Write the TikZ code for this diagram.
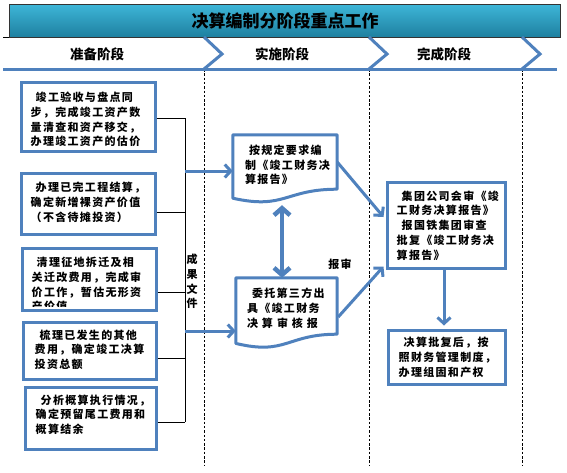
\documentclass[tikz,border=0pt]{standalone}
\usepackage{fontspec}
\setmainfont{Noto Sans CJK SC}
\newfontfamily\boxfont[LetterSpace=12]{Noto Sans CJK SC}
\usetikzlibrary{arrows.meta,calc}
\definecolor{ablue}{RGB}{79,129,189}
\definecolor{ttop}{RGB}{62,182,216}
\definecolor{tbot}{RGB}{30,128,160}
\begin{document}
\begin{tikzpicture}[x=1pt,y=-1pt,
  box/.style={draw=ablue,line width=3pt,fill=white,inner sep=0pt},
  docline/.style={draw=ablue,line width=3pt,fill=white,line join=round},
  ghost/.style={inner sep=0pt},
  txt/.style={anchor=north west,inner sep=0pt,align=left,font=\boxfont\bfseries\fontsize{11}{14.7}\selectfont},
  lbl/.style={inner sep=0pt,align=center,font=\boxfont\bfseries\fontsize{11}{14.7}\selectfont},
  phase/.style={inner sep=0pt,font=\bfseries\fontsize{13.5}{16}\selectfont},
  bline/.style={draw=ablue,line width=3pt},
  sep/.style={draw=black,line width=0.7pt,dash pattern=on 2.5pt off 1.8pt},
  brk/.style={draw=black,line width=0.8pt},
  arr/.style={draw=ablue,line width=3pt,-{Straight Barb[length=6pt,width=13pt]}},
  dblarr/.style={draw=ablue,line width=4.5pt,{Straight Barb[length=7pt,width=16pt]}-{Straight Barb[length=7pt,width=16pt]}}
]
\useasboundingbox (0,0) rectangle (567,472);
\fill[white] (0,0) rectangle (567,472);

% stage separators
\coordinate (s1t) at (204,69); \coordinate (s1b) at (204,465);
\coordinate (s2t) at (369,69); \coordinate (s2b) at (369,465);
\coordinate (s3t) at (522,69); \coordinate (s3b) at (522,465);
\draw[sep] (s1t) -- (s1b);
\draw[sep] (s2t) -- (s2b);
\draw[sep] (s3t) -- (s3b);

% header
\draw[black,line width=0.8pt] (3,37) -- (560,37);
\node[draw=black!80,line width=0.8pt,top color=ttop,bottom color=tbot,minimum width=551pt,minimum height=33pt,inner sep=0pt] (title) at (284.5,20.5) {};
\node[inner sep=0pt,font=\bfseries\fontsize{17}{20}\selectfont] (titletext) at (285,20.5) {决算编制分阶段重点工作};

\draw[bline] (3,69) -- (557,69);
\draw[bline,line join=miter] (204,37) -- (222,54) -- (204,69);
\draw[bline,line join=miter] (369,37) -- (387,54) -- (369,69);
\draw[bline,line join=miter] (522,37) -- (540,54) -- (522,69);
\node[phase] (p1) at (97,54) {准备阶段};
\node[phase] (p2) at (282,54) {实施阶段};
\node[phase] (p3) at (444,54) {完成阶段};

% left boxes
\node[box,minimum width=134pt,minimum height=69pt] (b1) at (88,116.5) {};
\node[box,minimum width=134pt,minimum height=61pt] (b2) at (88,203.5) {};
\node[box,minimum width=134pt,minimum height=62pt] (b3) at (89,279) {};
\node[box,minimum width=133pt,minimum height=57pt] (b4) at (89.5,350.5) {};
\node[box,minimum width=131pt,minimum height=62pt] (b5) at (90.5,418) {};

\begin{scope}
\clip ($(b1.north west)+(1.5,1.5)$) rectangle ($(b1.south east)+(-1.5,-5)$);
\node[txt] (t1) at ($(b1.north west)+(11,11.5)$) {\hspace*{5pt}竣工验收与盘点同\\步，完成竣工资产数\\量清查和资产移交，\\办理竣工资产的估价};
\end{scope}
\node[txt] (t2) at ($(b2.north west)+(11,10.5)$) {\hspace*{5pt}办理已完工程结算，\\确定新增裸资产价值\\（不含待摊投资）};
\begin{scope}
\clip ($(b3.north west)+(1.5,1.5)$) rectangle ($(b3.south east)+(-1.5,-5.5)$);
\node[txt] (t3) at ($(b3.north west)+(11,10.5)$) {\hspace*{5pt}清理征地拆迁及相\\关迁改费用，完成审\\价工作，暂估无形资\\产价值};
\end{scope}
\node[txt] (t4) at ($(b4.north west)+(13,9)$) {\hspace*{5pt}梳理已发生的其他\\费用，确定竣工决算\\投资总额};
\node[txt] (t5) at ($(b5.north west)+(12,9)$) {\hspace*{5pt}分析概算执行情况，\\确定预留尾工费用和\\概算结余};

% bracket
\coordinate (k1) at (185,118);
\coordinate (k2) at (185,212);
\coordinate (k3) at (185,292);
\coordinate (k4) at (185,358);
\coordinate (k5) at (185,422);
\coordinate (ka) at (185,171);
\coordinate (kb) at (185,331);
\draw[brk] (b1.east |- k1) -- (k1);
\draw[brk] (b2.east |- k2) -- (k2);
\draw[brk] (b3.east |- k3) -- (k3);
\draw[brk] (b4.east |- k4) -- (k4);
\draw[brk] (b5.east |- k5) -- (k5);
\draw[brk] (k1) -- (k5);
\node[lbl,anchor=north,text width=12pt] (cg) at (192,254) {成\\果\\文\\件};

% middle documents
\node[ghost,minimum width=104pt,minimum height=54pt] (d1) at (285,162) {};
\draw[docline] (d1.north west) -- (d1.north east) -- (d1.south east)
  .. controls (d1.south) and ($(d1.south)+(0,20.7)$) .. ($(d1.south west)+(0,9)$) -- cycle;
\node[txt] (td1) at ($(d1.north west)+(12,10)$) {\hspace*{4pt}按规定要求编\\制《竣工财务决\\算报告》};

\node[ghost,minimum width=101pt,minimum height=56pt] (d2) at (286.5,306) {};
\draw[docline] (d2.north west) -- (d2.north east) -- (d2.south east)
  .. controls (d2.south) and ($(d2.south)+(0,21.4)$) .. ($(d2.south west)+(0,9.2)$) -- cycle;
\node[txt] (td2) at ($(d2.north west)+(11,10)$) {\hspace*{5pt}委托第三方出\\具《竣工财务\\决\hspace{4pt}算\hspace{4pt}审\hspace{4pt}核\hspace{4pt}报};

\draw[arr] (ka) -- (ka -| d1.west);
\draw[arr] (kb) -- (kb -| d2.west);
\draw[dblarr] ($(d1.south)+(-3,16)$) -- ($(d2.north)+(-4.5,0)$);
\node[lbl] (bs) at (340,264) {报审};

% right boxes
\node[box,minimum width=118pt,minimum height=86pt] (r1) at (446,225) {};
\node[txt] (tr1) at ($(r1.north west)+(11,10)$) {\hspace*{5pt}集团公司会审《竣\\工财务决算报告》\\\hspace*{5pt}报国铁集团审查\\批复《竣工财务决\\算报告》};
\node[box,minimum width=117pt,minimum height=54pt] (r2) at (446.5,357) {};
\node[txt] (tr2) at ($(r2.north west)+(12,8.5)$) {\hspace*{5pt}决算批复后，按\\照财务管理制度，\\办理组固和产权};

\draw[arr] (d1.east) -- ($(r1.west)+(-2,-8)$);
\draw[arr] ($(d2.east)+(1,11)$) -- ($(r1.south west)+(-2,-3)$);
\draw[arr] ($(r1.south)+(-2,0)$) -- ($(r2.north)+(-2.5,-3)$);
\end{tikzpicture}
\end{document}
